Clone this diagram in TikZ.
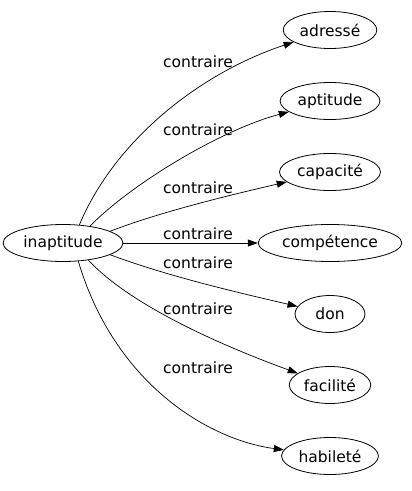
\documentclass[tikz,border=0pt]{standalone}
\usepackage{fontspec}
\setmainfont{DejaVu Sans}
\usetikzlibrary{shapes.geometric,arrows.meta}
\begin{document}
\begin{tikzpicture}[x=1pt,y=-1pt,
  every node/.style={font=\fontsize{15.5}{18}\selectfont},
  word/.style={draw,ellipse,inner xsep=2.8pt,inner ysep=3pt,minimum height=37pt,line width=0.8pt},
  lab/.style={inner sep=0pt},
  rel/.style={line width=0.7pt,-{Triangle[length=10pt,width=7pt]}}]
\useasboundingbox (0,0) rectangle (412,491);
\node[word] (inaptitude) at (63,243) {inaptitude};
\node[word] (adresse) at (330,30) {adressé};
\node[word] (aptitude) at (330,101) {aptitude};
\node[word] (capacite) at (330,172) {capacité};
\node[word] (competence) at (330,243) {compétence};
\node[word,minimum width=70pt] (don) at (330,314) {don};
\node[word] (facilite) at (330,385) {facilité};
\node[word] (habilete) at (330,456) {habileté};
\draw[rel] (inaptitude.48) .. controls (115,140) and (200,73) .. (adresse);
\draw[rel] (inaptitude.32) .. controls (130,185) and (220,130) .. (aptitude);
\draw[rel] (inaptitude.14) .. controls (160,212) and (230,195) .. (capacite);
\draw[rel] (inaptitude) -- (competence);
\draw[rel] (inaptitude.-14) .. controls (170,277) and (240,293) .. (don);
\draw[rel] (inaptitude.-34) .. controls (130,305) and (220,345) .. (facilite);
\draw[rel] (inaptitude.-50) .. controls (115,385) and (210,440) .. (habilete);
\node[lab] (l1) at (198,62) {contraire};
\node[lab] (l2) at (198,130) {contraire};
\node[lab] (l3) at (198,188) {contraire};
\node[lab] (l4) at (198,234) {contraire};
\node[lab] (l5) at (198,263) {contraire};
\node[lab] (l6) at (198,309) {contraire};
\node[lab] (l7) at (198,368) {contraire};
\end{tikzpicture}
\end{document}
